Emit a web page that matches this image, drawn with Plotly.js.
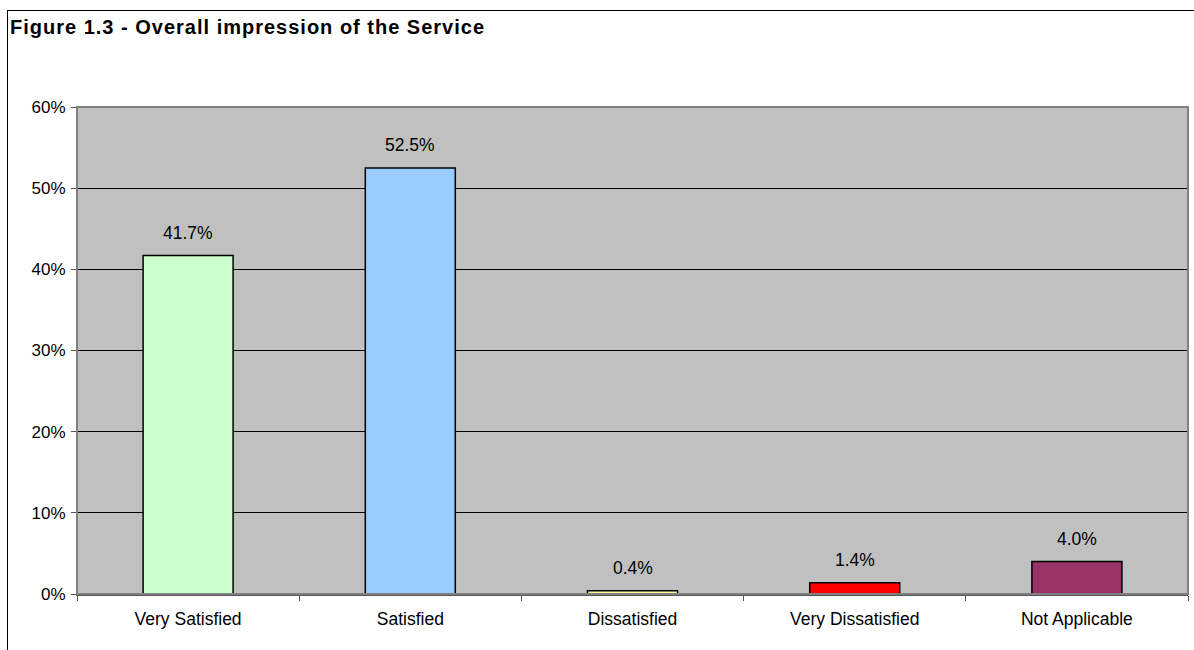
<!DOCTYPE html>
<html>
<head>
<meta charset="utf-8">
<script src="https://cdn.plot.ly/plotly-3.0.1.min.js"></script>
<style>
  html, body { margin: 0; padding: 0; background: #ffffff; overflow: hidden; }
  #frame { position: absolute; left: 7px; top: 10px; width: 1200px; height: 700px; border: 1px solid #000; box-sizing: border-box; }
  #chart { position: absolute; left: 0; top: 0; width: 1194px; height: 650px; }
  #chart .gtitle { letter-spacing: 1px; }
</style>
</head>
<body>
<div id="frame"></div>
<div id="chart"></div>
<script>
const categories = ["Very Satisfied", "Satisfied", "Dissatisfied", "Very Dissatisfied", "Not Applicable"];
const values = [41.7, 52.5, 0.4, 1.4, 4.0];
const barColors = ["#CCFFCC", "#99CCFF", "#FFFF99", "#FF0000", "#993366"];
const tickValues = [0, 10, 20, 30, 40, 50, 60];
const tickLabels = ["0%", "10%", "20%", "30%", "40%", "50%", "60%"];

const font = "Liberation Sans, Arial, sans-serif";

const trace = {
  type: "bar",
  x: categories,
  y: values,
  marker: { color: barColors, line: { color: "#000000", width: 1.5 } },
  hoverinfo: "skip"
};

const annotations = categories.map((c, i) => ({
  x: c, y: values[i], xref: "x", yref: "y",
  text: values[i].toFixed(1) + "%",
  showarrow: false, yanchor: "bottom", yshift: 11,
  font: { family: font, size: 17.5, color: "#000" }
}));

const layout = {
  width: 1194, height: 650,
  margin: { l: 77, r: 6, t: 107, b: 56, pad: 0 },
  paper_bgcolor: "rgba(0,0,0,0)",
  plot_bgcolor: "#C0C0C0",
  showlegend: false,
  bargap: 0.595,
  title: {
    text: "<b>Figure 1.3 - Overall impression of the Service</b>",
    font: { family: font, size: 20, color: "#000" },
    xref: "container", yref: "container",
    x: 10 / 1194, xanchor: "left",
    y: 1 - 27 / 650, yanchor: "middle"
  },
  xaxis: {
    type: "category",
    tickson: "boundaries",
    ticks: "outside", ticklen: 5, tickcolor: "#555", tickwidth: 1,
    ticklabelstandoff: 8,
    showline: true, linecolor: "#555", linewidth: 2,
    showgrid: false,
    tickfont: { family: font, size: 17.5, color: "#000" },
    fixedrange: true
  },
  yaxis: {
    range: [0, 60],
    tickvals: tickValues, ticktext: tickLabels,
    ticks: "outside", ticklen: 5, tickcolor: "#555", tickwidth: 1,
    ticklabelstandoff: 2,
    showline: true, linecolor: "#555", linewidth: 1,
    showgrid: true, gridcolor: "#000", gridwidth: 1,
    zeroline: false,
    tickfont: { family: font, size: 17, color: "#000" },
    fixedrange: true
  },
  shapes: [
    { type: "rect", xref: "paper", yref: "paper", x0: 0, x1: 1, y0: 0, y1: 1,
      line: { color: "#808080", width: 2 }, fillcolor: "rgba(0,0,0,0)", layer: "above" }
  ],
  annotations: annotations
};

Plotly.newPlot("chart", [trace], layout, { displayModeBar: false, staticPlot: true });
</script>
</body>
</html>
